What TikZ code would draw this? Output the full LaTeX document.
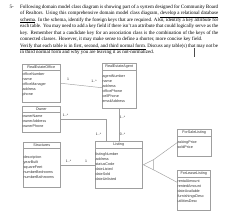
\documentclass[tikz,border=0pt]{standalone}
\usepackage{fontspec}
\setmainfont{Liberation Serif}
\newfontfamily\diagfont{Liberation Sans}
\usetikzlibrary{calc}
\tikzset{
  classbox/.style={draw=gray!75, line width=0.45pt, inner sep=0pt},
  boxline/.style={draw=gray!75, line width=0.45pt},
  titletext/.style={font=\diagfont\fontsize{3.7}{4.5}\selectfont, inner sep=0.5pt, text=black!80},
  attrtext/.style={font=\diagfont\fontsize{3.7}{5}\selectfont, align=left, inner sep=0.4pt, text=black!80},
  conn/.style={draw=gray!75, line width=0.45pt},
  mult/.style={font=\diagfont\fontsize{3.5}{4}\selectfont, inner sep=0.3pt, text=black!80},
  hline/.style={font=\fontsize{5}{6.5}\selectfont, inner sep=0pt, anchor=base west},
}
\newcommand{\umlclass}[8]{%
  \node[classbox, minimum width=#3pt, minimum height=#4pt, anchor=north west] (#1) at (#2) {};
  \node[titletext, anchor=center] (#1-t) at ($(#1.north)+(0,#7/2)$) {#5};
  \draw[boxline] ($(#1.north west)+(0,#7)$) -- ($(#1.north east)+(0,#7)$);
  \node[attrtext, anchor=north west] (#1-a) at ($(#1.north west)+(0,#8)$) {#6};
}
\begin{document}
\begin{tikzpicture}[x=1pt,y=-1pt]
\useasboundingbox[fill=white] (0,0) rectangle (238,212);
% header text
\node[hline] (num) at (9.3,8.2) {5-};
\node[hline] (h1) at (20,8.2) {\makebox[198pt][s]{Following domain model class diagram is showing part of a system designed for Community Board}};
\node[hline] (h2) at (20,14.7) {\makebox[198pt][s]{of Realtors. Using this comprehensive domain model class diagram, \underline{develop a relational database}}};
\node[hline] (h3) at (20,21.2) {\makebox[198pt][s]{\underline{schema}. In the schema, identify the foreign keys that are required. Also, identify a key attribute for}};
\node[hline] (h4) at (20,27.7) {\makebox[198pt][s]{each table. You may need to add a key field if there isn't an attribute that could logically serve as the}};
\node[hline] (h5) at (20,34.2) {\makebox[198pt][s]{key. Remember that a candidate key for an association class is the combination of the keys of the}};
\node[hline] (h6) at (20,40.7) {connected classes. However, it may make sense to define a shorter, more concise key field.};
\node[hline] (h7) at (20,47.2) {\makebox[198pt][s]{\underline{Verify that each table is in first, second, and third normal form.} Discuss any table(s) that may not be}};
\node[hline] (h8) at (20,53.7) {in third normal form and why you are leaving it as not-normalized.};
\draw[black!70, line width=0.4pt] (194,48) -- (194,57);
% classes
\umlclass{reo}{22,64}{38}{38}{RealEstateOffice}{officeNumber\\name\\officeManager\\address\\phone}{6.5}{8.5}
\umlclass{rea}{102,63}{34}{45}{RealEstateAgent}{agentNumber\\name\\address\\officePhone\\cellPhone\\emailAddress}{7}{11.5}
\umlclass{own}{22,106}{38}{26}{Owner}{ownerName\\ownerAddress\\ownerPhone}{6}{8.5}
\umlclass{str}{23,142}{37}{45}{Structures}{description\\yearBuilt\\squareFeet\\numberBedrooms\\numberBathrooms}{6.5}{13.5}
\umlclass{lst}{95,141}{47}{47}{Listing}{listingNumber\\address\\statusCode\\dateListed\\dateSold\\dateUnlisted}{7}{11}
\umlclass{fsl}{177,129}{34}{27}{ForSaleListing}{askingPrice\\soldPrice}{7}{11.5}
\umlclass{fll}{177,170}{33}{40}{ForLeaseListing}{rentalAmount\\rentedAmount\\dateAvailable\\furnishingsDesc\\utilitiesDesc}{7}{9.5}
% associations
\draw[conn] (reo.east) -- ([yshift=-2pt]rea.west);
\node[mult] (m1) at (68,79.5) {1};
\node[mult] (m2) at (94,81) {1..*};
\draw[conn] (own.east) -| ([xshift=11pt]lst.north west);
\node[mult] (m3) at (65.5,115) {1..*};
\node[mult] (m4) at (98.5,134) {1..*};
\draw[conn] (lst.north |- rea.south) -- (lst.north);
\node[mult] (m5) at (122.5,117) {1..*};
\node[mult] (m6) at (122.5,134) {0..*};
\draw[conn] (str.east) -- (lst.west);
\node[mult] (m7) at (68.5,161.5) {1..*};
\node[mult] (m8) at (86,161.5) {1};
% generalization
\coordinate (gapex) at ([xshift=1pt]lst.east);
\coordinate (gtop) at ($(gapex)+(10,-5)$);
\coordinate (gbot) at ($(gapex)+(10,5)$);
\draw[conn] (gapex) -- (gtop) -- (gbot) -- cycle;
\draw[conn] (gtop) -- (fsl.west);
\draw[conn] (gbot) -- ([yshift=8pt]fll.west);
\end{tikzpicture}
\end{document}
